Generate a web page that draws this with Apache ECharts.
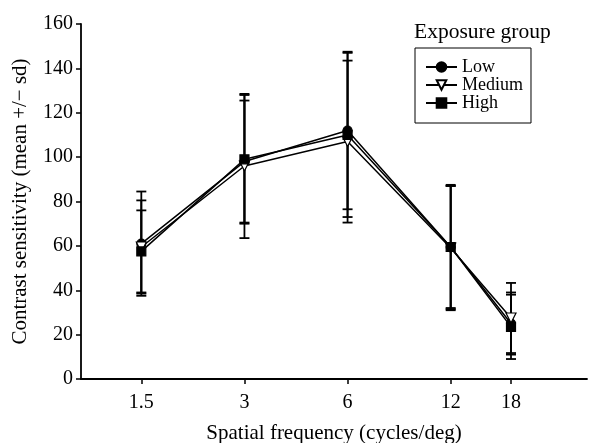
<!DOCTYPE html>
<html><head><meta charset="utf-8">
<script src="https://cdn.jsdelivr.net/npm/echarts@6/dist/echarts.min.js"></script>
<style>html,body{margin:0;padding:0;background:#fff}#c{width:589px;height:443px}</style>
</head><body><div id="c"></div>
<script>
const frequencies = [1.5, 3, 6, 12, 18];
const groupNames = ['Low', 'Medium', 'High'];
const lowMean = [61, 98, 112, 59.5, 25];
const lowSd = [23.5, 27.5, 35.5, 28, 14];
const mediumMean = [59.5, 96, 107, 59, 27.5];
const mediumSd = [21, 32.5, 36.5, 28, 15.8];
const highMean = [57.5, 99, 110, 59.5, 23.5];
const highSd = [18.5, 29, 37, 27.5, 14.5];

const FONT = 'Liberation Serif';
const means = [lowMean, mediumMean, highMean];
const sds = [lowSd, mediumSd, highSd];
const symbols = ['circle', 'triangle', 'rect'];
const symSizes = [9, 10, 9];
const fills = ['#000', '#fff', '#000'];
const rotates = [0, 180, 0];

function renderBar(params, api) {
  const x = api.value(0), lo = api.value(1), hi = api.value(2);
  const p1 = api.coord([x, hi]), p2 = api.coord([x, lo]);
  const w = 5;
  const st = {stroke: '#000', lineWidth: 1.8};
  return {type: 'group', children: [
    {type: 'line', shape: {x1: p1[0], y1: p1[1], x2: p2[0], y2: p2[1]}, style: st},
    {type: 'line', shape: {x1: p1[0] - w, y1: p1[1], x2: p1[0] + w, y2: p1[1]}, style: st},
    {type: 'line', shape: {x1: p2[0] - w, y1: p2[1], x2: p2[0] + w, y2: p2[1]}, style: st}
  ]};
}

const series = [];
groupNames.forEach((name, i) => {
  series.push({
    type: 'custom', name: name + ' sd', renderItem: renderBar, z: 1,
    data: frequencies.map((f, k) => [f, means[i][k] - sds[i][k], means[i][k] + sds[i][k]]),
    encode: {x: 0, y: [1, 2]}, silent: true
  });
});
groupNames.forEach((name, i) => {
  series.push({
    type: 'line', name: name, z: 3,
    data: frequencies.map((f, k) => [f, means[i][k]]),
    symbol: symbols[i], symbolSize: symSizes[i], symbolRotate: rotates[i],
    showAllSymbol: true,
    lineStyle: {color: '#000', width: 1.5},
    itemStyle: {color: fills[i], borderColor: '#000', borderWidth: 1.2},
    emphasis: {disabled: true}, animation: false
  });
});

const chart = echarts.init(document.getElementById('c'));
chart.setOption({
  animation: false,
  backgroundColor: '#fff',
  title: {text: 'Exposure group', left: 409, top: 16,
    textStyle: {fontFamily: FONT, fontSize: 21.5, fontWeight: 'normal', color: '#000'}},
  legend: {
    data: groupNames, orient: 'vertical', left: 415, top: 48,
    padding: [10, 8, 11, 10], itemGap: 0, itemWidth: 31, itemHeight: 12,
    borderColor: '#000', borderWidth: 1,
    textStyle: {fontFamily: FONT, fontSize: 18, color: '#000', lineHeight: 17}
  },
  grid: {left: 81, right: 2, top: 24, bottom: 64, containLabel: false, outerBoundsMode: 'none'},
  xAxis: {
    type: 'log', min: 1, max: 30, logBase: 10,
    name: 'Spatial frequency (cycles/deg)', nameLocation: 'middle', nameGap: 43.5,
    nameTextStyle: {fontFamily: FONT, fontSize: 21, color: '#000'},
    axisLine: {lineStyle: {color: '#000', width: 1.8}},
    axisTick: {show: true, length: 5, lineStyle: {color: '#000', width: 1.5}, customValues: frequencies},
    axisLabel: {fontFamily: FONT, fontSize: 20, color: '#000', margin: 14, customValues: frequencies,
      formatter: v => String(v)},
    splitLine: {show: false}, minorTick: {show: false}
  },
  yAxis: {
    type: 'value', min: 0, max: 160, interval: 20,
    name: 'Contrast sensitivity (mean +/\u2212 sd)', nameLocation: 'middle', nameGap: 50,
    nameTextStyle: {fontFamily: FONT, fontSize: 21, color: '#000'},
    axisLine: {show: true, lineStyle: {color: '#000', width: 1.8}},
    axisTick: {show: true, length: 5, lineStyle: {color: '#000', width: 1.5}},
    axisLabel: {fontFamily: FONT, fontSize: 20, color: '#000', margin: 8},
    splitLine: {show: false}
  },
  series: series
});
</script></body></html>
